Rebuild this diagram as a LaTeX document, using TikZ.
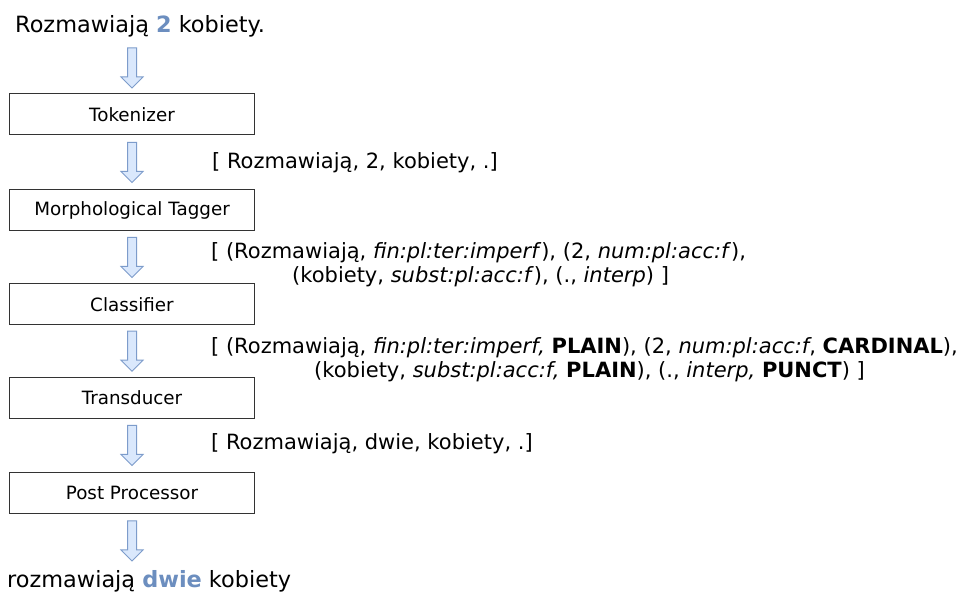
\documentclass[tikz,border=0pt]{standalone}
\usepackage{fontspec}
\setmainfont{DejaVu Sans}
\usetikzlibrary{calc}
\definecolor{arrowfill}{HTML}{DAE8FC}
\definecolor{arrowline}{HTML}{7D9CCB}
\definecolor{hl}{HTML}{6C8EBF}
\definecolor{boxline}{HTML}{333333}
\newcommand{\blockarrowat}[1]{%
  \draw[flowarrow, shift={(#1)}] (-4.5,-20) -- (-4.5,9) -- (-11,9) -- (0,20) -- (11,9) -- (4.5,9) -- (4.5,-20) -- cycle;}
\begin{document}
\begin{tikzpicture}[x=1pt,y=-1pt,
  stage/.style={draw=boxline, line width=1pt, minimum width=245pt, minimum height=41pt,
    inner sep=0pt, font=\fontsize{18.3}{21}\selectfont},
  flowarrow/.style={draw=arrowline, fill=arrowfill, line width=1pt, line join=miter},
  lbl/.style={anchor=base west, inner sep=0pt, font=\fontsize{21}{24}\selectfont},
  big/.style={anchor=base west, inner sep=0pt, font=\fontsize{22.4}{26}\selectfont}]
\useasboundingbox[fill=white] (0,0) rectangle (970,601);

\node[big] (in) at (15,33) {Rozmawiają \textbf{\color{hl}2} kobiety.};

\node[stage] (tok) at (132,114.5) {Tokenizer};
\node[stage] (tag) at (132,210.5) {Morphological Tagger};
\node[stage] (cls) at (132,304.5) {Classifier};
\node[stage] (trn) at (132,398) {Transducer};
\node[stage] (pp)  at (132,493) {Post Processor};

\node[big] (out) at (7,587) {rozmawiają \textbf{\color{hl}dwie} kobiety};

\coordinate (a1) at ($(tok.north)+(0,-25.5)$);
\coordinate (a2) at ($(tok.south)!0.5!(tag.north)$);
\coordinate (a3) at ($(tag.south)!0.5!(cls.north)$);
\coordinate (a4) at ($(cls.south)!0.5!(trn.north)$);
\coordinate (a5) at ($(trn.south)!0.5!(pp.north)$);
\coordinate (a6) at ($(pp.south)+(0,27)$);
\foreach \c in {a1,a2,a3,a4,a5,a6} {\blockarrowat{\c}}

\node[lbl] (l1) at (212,169) {[ Rozmawiają, 2, kobiety, .]};
\node[lbl] (l2a) at (211,259) {[ (Rozmawiają, \textit{fin:pl:ter:imperf}), (2, \textit{num:pl:acc:f}),};
\node[lbl] (l2b) at (292,283) {(kobiety, \textit{subst:pl:acc:f}), (., \textit{interp}) ]};
\node[lbl] (l3a) at (211,354) {[ (Rozmawiają, \textit{fin:pl:ter:imperf,} \textbf{PLAIN}), (2, \textit{num:pl:acc:f}, \textbf{CARDINAL}),};
\node[lbl] (l3b) at (314,378) {(kobiety, \textit{subst:pl:acc:f,} \textbf{PLAIN}), (., \textit{interp,} \textbf{PUNCT}) ]};
\node[lbl] (l4) at (211,450) {[ Rozmawiają, dwie, kobiety, .]};
\end{tikzpicture}
\end{document}
